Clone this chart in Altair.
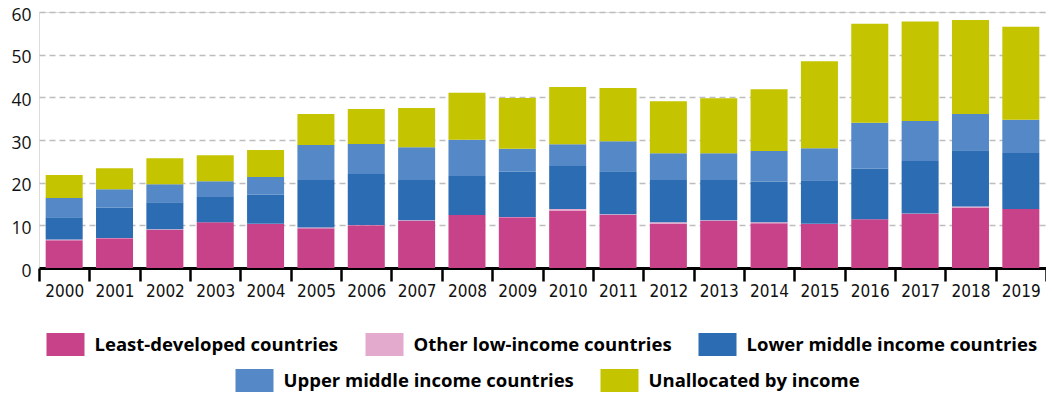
import altair as alt
import pandas as pd

years = [str(y) for y in range(2000, 2020)]

series_names = [
    "Least-developed countries",
    "Other low-income countries",
    "Lower middle income countries",
    "Upper middle income countries",
    "Unallocated by income",
]
series_colors = ["#C8428A", "#E3AACD", "#2B6CB3", "#5488C7", "#C4C400"]

least_developed = [6.5, 7.0, 8.9, 10.7, 10.3, 9.3, 10.0, 11.0, 12.4, 11.9,
                   13.5, 12.4, 10.3, 11.0, 10.5, 10.3, 11.4, 12.7, 14.2, 13.8]
other_low = [0.2, 0.05, 0.2, 0.05, 0.05, 0.2, 0.05, 0.2, 0.05, 0.05,
             0.3, 0.2, 0.4, 0.2, 0.2, 0.05, 0.05, 0.05, 0.2, 0.05]
lower_middle = [5.2, 7.1, 6.3, 5.9, 6.8, 11.1, 12.0, 9.4, 9.1, 10.6,
                10.1, 10.1, 9.9, 9.4, 9.6, 10.2, 11.8, 12.3, 13.2, 13.1]
upper_middle = [4.5, 4.3, 4.2, 3.7, 4.2, 8.2, 7.0, 7.7, 8.5, 5.4,
                5.1, 7.0, 6.3, 6.3, 7.1, 7.5, 10.8, 9.4, 8.5, 7.8]
unallocated = [5.4, 4.9, 6.1, 6.1, 6.3, 7.3, 8.2, 9.2, 11.0, 11.9,
               13.4, 12.5, 12.2, 12.9, 14.5, 20.4, 23.2, 23.3, 22.0, 21.8]

y_ticks = [0, 10, 20, 30, 40, 50, 60]

all_values = [least_developed, other_low, lower_middle, upper_middle, unallocated]
rows = []
for si, (name, vals) in enumerate(zip(series_names, all_values)):
    for yr, v in zip(years, vals):
        rows.append({"year": yr, "series": name, "value": v, "order": si,
                     "row": 1 if si < 3 else 2})
df = pd.DataFrame(rows)

LEG_FONT = "Open Sans"
AX_FONT = "Liberation Sans Narrow, DejaVu Sans Condensed, sans-serif"
RECT = "M-1.652,-1H1.652V1H-1.652Z"

base = alt.Chart(df).transform_stack(
    stack="value", groupby=["year"], as_=["y0", "y1"],
    sort=[alt.SortField("order", order="ascending")],
)

x_enc = alt.X(
    "year:O", title=None, sort=years,
    scale=alt.Scale(paddingInner=0, paddingOuter=0),
    axis=alt.Axis(
        labelAngle=0, labelFont=AX_FONT, labelFontSize=17, labelColor="#111111",
        labelPadding=2, tickBand="extent", tickSize=13, tickWidth=2.5,
        tickColor="#000000", domainColor="#000000", domainWidth=2.8, grid=False,
    ),
)
y_enc = alt.Y(
    "y0:Q", title=None,
    scale=alt.Scale(domain=[0, 60], nice=False),
    axis=alt.Axis(
        values=y_ticks, domain=False, ticks=False, grid=True,
        gridDash=[6, 4], gridColor="#bdbdbd", gridWidth=1.5,
        labelFont="Open Sans", labelFontSize=17.5, labelColor="#111111",
        labelPadding=8, labelOffset=3,
    ),
)


def legend(x, y):
    return alt.Legend(
        title=None, orient="none", legendX=x, legendY=y, direction="horizontal",
        symbolType=RECT, symbolSize=529, symbolStrokeWidth=0, symbolOpacity=1,
        labelFont=LEG_FONT, labelFontSize=18.5, labelFontWeight="bold",
        labelColor="#000000", labelOffset=17.5, columnPadding=26, padding=0,
        labelLimit=400,
    )


layer1 = base.transform_filter(alt.datum.row == 1).mark_bar(
    width={"band": 0.735}
).encode(
    x=x_enc, y=y_enc, y2="y1:Q",
    color=alt.Color("series:N", sort=series_names[:3],
                    scale=alt.Scale(domain=series_names[:3], range=series_colors[:3]),
                    legend=legend(15, 321)),
)

layer2 = base.transform_filter(alt.datum.row == 2).mark_bar(
    width={"band": 0.735}
).encode(
    x=x_enc, y=y_enc, y2="y1:Q",
    color=alt.Color("series:N", sort=series_names[3:],
                    scale=alt.Scale(domain=series_names[3:], range=series_colors[3:]),
                    legend=legend(204, 357)),
)

chart = alt.layer(layer1, layer2).resolve_scale(color="independent").properties(
    width=1007, height=256,
    autosize=alt.AutoSizeParams(type="none"),
    padding={"left": 31, "top": 4, "right": 0, "bottom": 125},
).configure_view(stroke=None).configure(background="white")

chart.save("out.html", embed_options={"renderer": "svg", "actions": False})
